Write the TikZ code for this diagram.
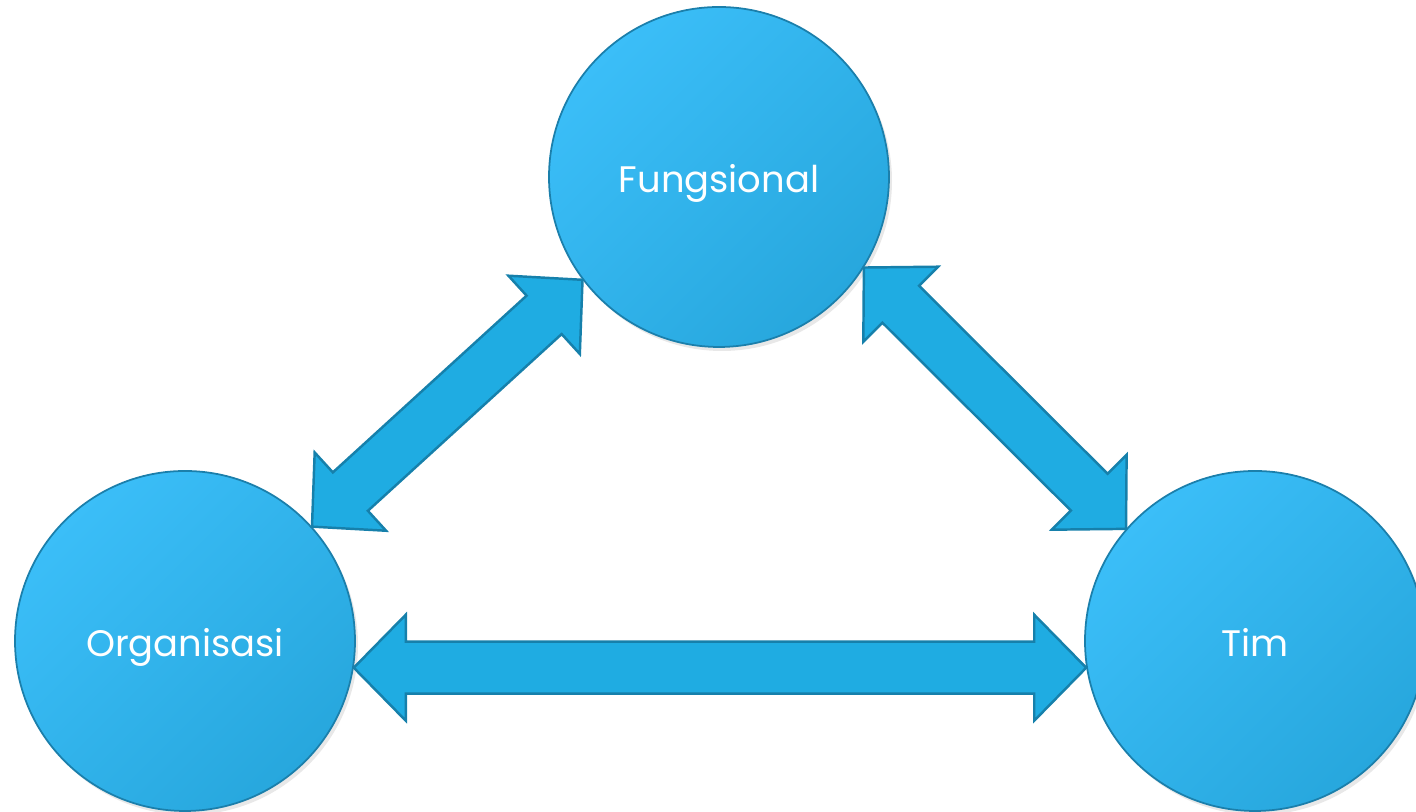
\documentclass[tikz,border=0pt]{standalone}
\usepackage{fontspec}
\setmainfont{Poppins}
\usetikzlibrary{calc,shadows}

\definecolor{circtop}{HTML}{3BBEF8}
\definecolor{circbot}{HTML}{27A7DD}
\definecolor{circline}{HTML}{1B7FAB}
\definecolor{arrowfill}{HTML}{1FACE2}
\definecolor{arrowline}{HTML}{1680AB}

\tikzset{
  bubble/.style={circle, minimum size=3.4cm, inner sep=0pt, draw=circline, line width=0.5pt,
    top color=circtop, bottom color=circbot, shading angle=45, text=white,
    font=\fontsize{10.5}{12}\selectfont, text height=0.32cm, text depth=0pt,
    drop shadow={opacity=0.18, shadow xshift=0.03cm, shadow yshift=-0.04cm}},
  blockarrow/.style={fill=arrowfill, draw=arrowline, line width=0.7pt, line join=miter}
}

% block arrow with a head at both ends
\newcommand{\dblarrow}[2]{%
  \draw [blockarrow] (#1)
    -- ($(#1)!0.52cm!(#2)!0.53cm!90:(#2)$) -- ($(#1)!0.52cm!(#2)!0.26cm!90:(#2)$)
    -- ($(#2)!0.52cm!(#1)!0.26cm!-90:(#1)$) -- ($(#2)!0.52cm!(#1)!0.53cm!-90:(#1)$)
    -- (#2)
    -- ($(#2)!0.52cm!(#1)!0.53cm!90:(#1)$) -- ($(#2)!0.52cm!(#1)!0.26cm!90:(#1)$)
    -- ($(#1)!0.52cm!(#2)!0.26cm!-90:(#2)$) -- ($(#1)!0.52cm!(#2)!0.53cm!-90:(#2)$)
    -- cycle;}

\begin{document}
\begin{tikzpicture}
                \useasboundingbox (0,0) rectangle (14.16,8.12);
                \node [bubble] (fung) at (7.19,6.35) {Fungsional};
                \node [bubble] (org) at (1.85,1.71) {Organisasi};
                \node [bubble] (tim) at (12.55,1.71) {Tim};
                \dblarrow{org.42}{fung.217}
                \dblarrow{fung.-32.5}{tim.139}
                \dblarrow{org.-9}{tim.-171}
            \end{tikzpicture}
\end{document}
